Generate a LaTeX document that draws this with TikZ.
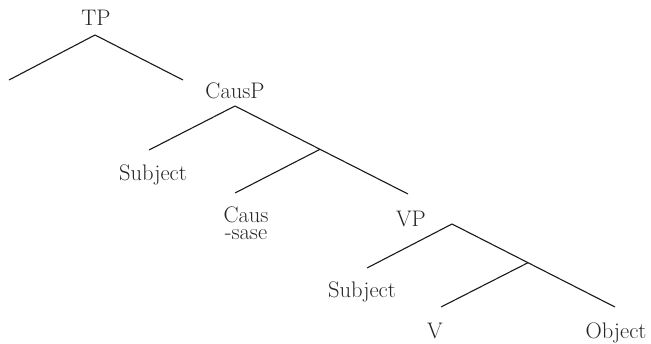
\documentclass[tikz,border=0pt]{standalone}
\begin{document}
\begin{tikzpicture}[x=1pt,y=-1pt,
  lbl/.style={inner sep=0pt,anchor=base,font=\fontsize{22.5}{17}\selectfont,text=black!85},
  branch/.style={line width=1.1pt,black!90}]
\useasboundingbox (0,0) rectangle (651,343);
% labels
\node[lbl] (tp) at (96,25) {TP};
\node[lbl] (causp) at (235,98) {CausP};
\node[lbl] (subj1) at (153,180) {Subject};
\node[lbl,align=center] (caus) at (246,239) {Caus\\-sase};
\node[lbl] (vp) at (411,226) {VP};
\node[lbl] (subj2) at (362,297) {Subject};
\node[lbl] (v) at (435,338.5) {V};
\node[lbl] (obj) at (616,338.5) {Object};
% branch points
\coordinate (tpA) at (95,35);
\coordinate (tpL) at (9,80);
\coordinate (tpR) at (183,80);
\coordinate (cA) at (235,106);
\coordinate (cL) at (149,150);
\coordinate (cJ) at (320,149.3);
\coordinate (cR) at (408,194);
\coordinate (cJL) at (235,193);
\coordinate (vA) at (452,224);
\coordinate (vL) at (367,268);
\coordinate (vJ) at (528,262.7);
\coordinate (vR) at (615,307);
\coordinate (vJL) at (441,307);
% branches
\draw[branch] (tpL) -- (tpA) -- (tpR);
\draw[branch] (cL) -- (cA) -- (cJ) -- (cR);
\draw[branch] (cJ) -- (cJL);
\draw[branch] (vL) -- (vA) -- (vJ) -- (vR);
\draw[branch] (vJ) -- (vJL);
\end{tikzpicture}
\end{document}
